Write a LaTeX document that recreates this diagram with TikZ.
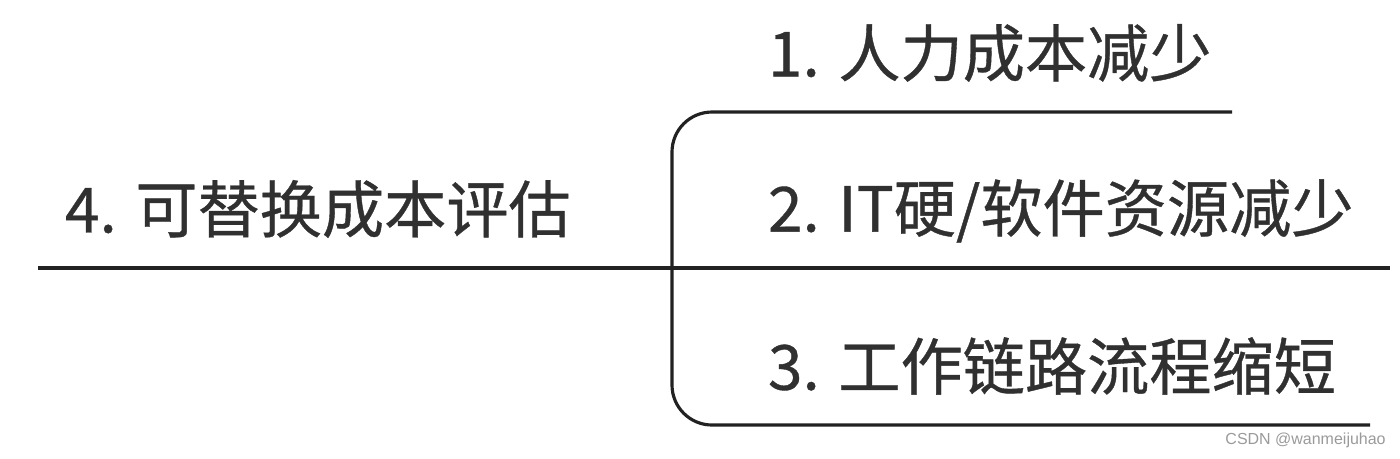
\documentclass[tikz,border=0pt]{standalone}
\usepackage{fontspec}
\usepackage{tikz}
\usepackage{xcolor}
\newfontfamily\cjk[FakeBold=0.6]{Noto Sans CJK SC}
\setmainfont{Liberation Sans}
\definecolor{txt}{HTML}{303030}
\definecolor{ln}{HTML}{222222}
\definecolor{wm}{HTML}{9A9A9A}
\tikzstyle{topic} = [anchor=west, inner sep=0, outer sep=0, text=txt, font=\cjk\fontsize{35.4}{42}\selectfont]
\tikzstyle{wmark} = [anchor=east, inner sep=0, text=wm, font=\fontsize{9.1}{11}\selectfont]
\tikzstyle{line} = [draw, line width=1.8pt, color=ln]

\begin{document}
\begin{tikzpicture}[x=0.02cm, y=-0.02cm]
\useasboundingbox (0,0) rectangle (1400,458);

\node [topic] (root) at (65,209) {4. 可替换成本评估};
\node [topic] (c1) at (768,53) {1. 人力成本减少};
\node [topic] (c2) at (768,211) {2. IT硬/软件资源减少};
\node [topic] (c3) at (768,366) {3. 工作链路流程缩短};
\node [wmark] (wm) at (1386,440) {CSDN @wanmeijuhao};

\coordinate (rs) at (38,268);
\coordinate (re) at (1390,268);
\coordinate (fork) at (672,268);
\coordinate (e1) at (1232,112);
\coordinate (e3) at (1370,425);

\path [line] (rs) -- (re);
\path [line, rounded corners=0.8cm] (e1) -- (e1 -| fork) -- (e3 -| fork) -- (e3);

\end{tikzpicture}
\end{document}
